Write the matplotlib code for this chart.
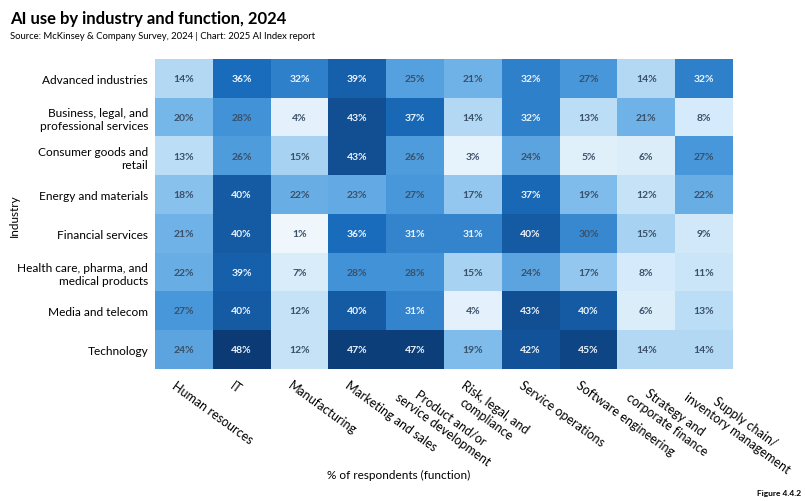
import matplotlib.pyplot as plt
import numpy as np
from matplotlib.colors import LinearSegmentedColormap

plt.rcParams['font.family'] = ['Lato', 'DejaVu Sans']

# Data (% of respondents)
industries = ['Advanced industries', 'Business, legal, and\nprofessional services',
              'Consumer goods and\nretail', 'Energy and materials', 'Financial services',
              'Health care, pharma, and\nmedical products', 'Media and telecom', 'Technology']
functions = ['Human resources', 'IT', 'Manufacturing', 'Marketing and sales',
             'Product and/or\nservice development', 'Risk, legal, and\ncompliance',
             'Service operations', 'Software engineering', 'Strategy and\ncorporate finance',
             'Supply chain/\ninventory management']

advanced = [14, 36, 32, 39, 25, 21, 32, 27, 14, 32]
business = [20, 28, 4, 43, 37, 14, 32, 13, 21, 8]
consumer = [13, 26, 15, 43, 26, 3, 24, 5, 6, 27]
energy = [18, 40, 22, 23, 27, 17, 37, 19, 12, 22]
financial = [21, 40, 1, 36, 31, 31, 40, 30, 15, 9]
health = [22, 39, 7, 28, 28, 15, 24, 17, 8, 11]
media = [27, 40, 12, 40, 31, 4, 43, 40, 6, 13]
technology = [24, 48, 12, 47, 47, 19, 42, 45, 14, 14]

values = np.array([advanced, business, consumer, energy, financial, health, media, technology])

# colour stops picked from the reference cells (0..48 %)
cmap = LinearSegmentedColormap.from_list('ai_blues', [
    (0.0, '#f3f9fe'), (12 / 48, '#c6e3f8'), (20 / 48, '#76b7ea'),
    (28 / 48, '#4393d8'), (36 / 48, '#1a6dbd'), (1.0, '#0b3a75')])

fig = plt.figure(figsize=(8.05, 5.02), dpi=100)
ax = fig.add_axes([0.1925, 0.263, 0.718, 0.617])

ax.imshow(values, cmap=cmap, vmin=0, vmax=48, aspect='auto')

for i in range(values.shape[0]):
    for j in range(values.shape[1]):
        v = values[i, j]
        color = '#eef4fb' if v >= 31 else '#3a5068'
        ax.text(j, i, f'{v}%', ha='center', va='center', fontsize=7.5,
                fontweight='bold', color=color)

ax.set_yticks(range(len(industries)))
ax.set_yticklabels(industries, fontsize=8.6, ha='right', multialignment='right')
ax.set_xticks(np.arange(len(functions)) - 0.12)
ax.set_xticklabels(functions, fontsize=9, rotation=-36, ha='left', va='top',
                   rotation_mode='anchor', multialignment='center')
ax.tick_params(axis='y', length=0, pad=5)
ax.tick_params(axis='x', length=0, pad=7)
for s in ax.spines.values():
    s.set_visible(False)

fig.text(0.018, 0.57, 'Industry', rotation=90, ha='center', va='center', fontsize=8.5)
fig.text(0.495, 0.053, '% of respondents (function)', ha='center', va='center', fontsize=8.5)

fig.text(0.012, 0.963, 'AI use by industry and function, 2024', fontsize=12,
         fontweight='bold', va='center')
fig.text(0.012, 0.927, 'Source: McKinsey & Company Survey, 2024 | Chart: 2025 AI Index report',
         fontsize=6.8, va='center')
fig.text(0.995, 0.01, 'Figure 4.4.2', fontsize=6, fontweight='bold', ha='right', va='bottom')

fig.savefig('out.png', dpi=100)
